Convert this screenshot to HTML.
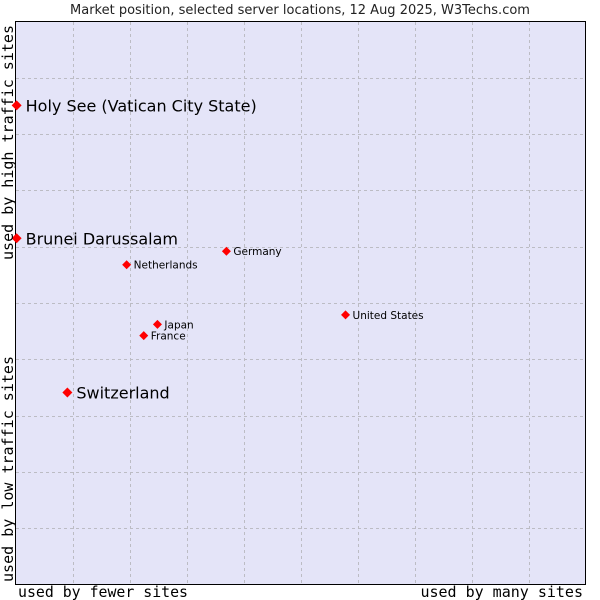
<!DOCTYPE html>
<html><head><meta charset="utf-8"><style>
body{margin:0;background:#fff;}
svg{display:block;}
</style></head><body>
<svg id="chart" width="600" height="600" xmlns="http://www.w3.org/2000/svg">
<text x="300" y="14" text-anchor="middle" font-family="DejaVu Sans, sans-serif" font-size="13" fill="#222">Market position, selected server locations, 12 Aug 2025, W3Techs.com</text>
<rect x="15.5" y="21.5" width="570" height="563" fill="#e4e4f8" stroke="#000" stroke-width="1"/>
<g id="grid"></g>
<g id="points"></g>
<text x="18" y="597" textLength="170" lengthAdjust="spacingAndGlyphs" font-family="DejaVu Sans Mono, monospace" font-size="15" fill="#000">used by fewer sites</text>
<text x="583" y="597" text-anchor="end" font-family="DejaVu Sans Mono, monospace" font-size="15" fill="#000">used by many sites</text>
<text transform="translate(13,260) rotate(-90)" textLength="235" lengthAdjust="spacingAndGlyphs" font-family="DejaVu Sans Mono, monospace" font-size="15" fill="#000">used by high traffic sites</text>
<text transform="translate(13,582) rotate(-90)" textLength="226" lengthAdjust="spacingAndGlyphs" font-family="DejaVu Sans Mono, monospace" font-size="15" fill="#000">used by low traffic sites</text>
</svg>
<script>
const countries = ["Holy See (Vatican City State)","Brunei Darussalam","Germany","Netherlands","United States","Japan","France","Switzerland"];
const xValues = [0.2,0.2,37.0,19.5,57.9,24.9,22.5,9.1];
const yValues = [85.1,61.5,59.2,56.8,47.9,46.2,44.2,34.1];
const largeLabel = [true,true,false,false,false,false,false,true];
const labelDy = [0,0,0,0,0,0,0,0];

const X0=15.5, W=570, Y0=584.5, H=563;
const sx = v => X0 + v/100*W;
const sy = v => Y0 - v/100*H;
const NS="http://www.w3.org/2000/svg";
const grid=document.getElementById('grid');
for(let i=1;i<10;i++){
  const x=Math.round(X0+i*57)+0.5;
  const l=document.createElementNS(NS,'line');
  l.setAttribute('x1',x);l.setAttribute('x2',x);l.setAttribute('y1',22);l.setAttribute('y2',584);
  l.setAttribute('stroke','#bcbcc4');l.setAttribute('stroke-dasharray','3,3');
  
  
  grid.appendChild(l);
  const y=Math.round(Y0-i*H/10)+0.5;
  const h=document.createElementNS(NS,'line');
  h.setAttribute('x1',16);h.setAttribute('x2',585);h.setAttribute('y1',y);h.setAttribute('y2',y);
  h.setAttribute('stroke','#bcbcc4');h.setAttribute('stroke-dasharray','3,3');
  
  
  grid.appendChild(h);
}
const pts=document.getElementById('points');
countries.forEach((c,i)=>{
  const x=sx(xValues[i]), y=sy(yValues[i]);
  const r=largeLabel[i]?5:4.5;
  const m=document.createElementNS(NS,'path');
  m.setAttribute('d',`M${x-r},${y} L${x},${y-r} L${x+r},${y} L${x},${y+r} Z`);
  m.setAttribute('fill','#ff0000');
  
  
  pts.appendChild(m);
  const t=document.createElementNS(NS,'text');
  t.setAttribute('x',x+(largeLabel[i]?9:7));
  t.setAttribute('y',y+(largeLabel[i]?6:4)+labelDy[i]);
  t.setAttribute('font-family','DejaVu Sans, sans-serif');
  t.setAttribute('font-size',largeLabel[i]?'16':'10.5');
  t.setAttribute('fill','#000');
  t.textContent=c;
  
  
  pts.appendChild(t);
});
</script>
</body></html>
